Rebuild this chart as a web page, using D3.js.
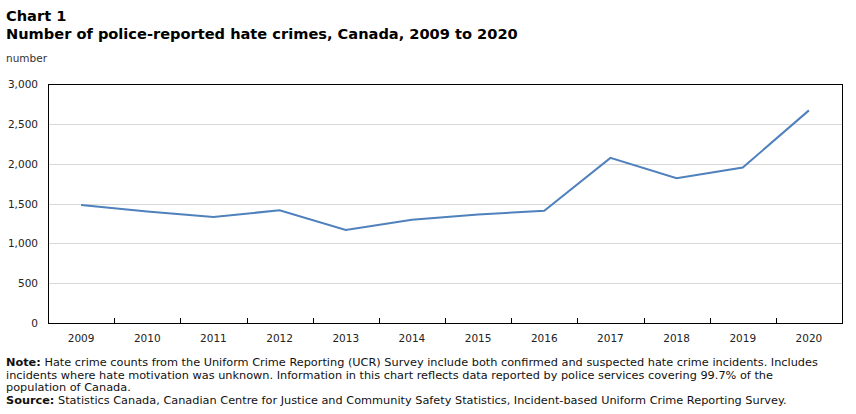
<!DOCTYPE html>
<html>
<head>
<meta charset="utf-8">
<script src="https://cdn.jsdelivr.net/npm/d3@7"></script>
<style>
  body { margin: 0; background: #fff; }
  svg { font-family: "DejaVu Sans", Verdana, sans-serif; }
</style>
</head>
<body>
<svg width="856" height="414"></svg>
<script>
var years = ['2009','2010','2011','2012','2013','2014','2015','2016','2017','2018','2019','2020'];
var hateCrimes = [1482, 1401, 1332, 1414, 1167, 1295, 1362, 1409, 2073, 1817, 1951, 2669];
var yTicks = [0, 500, 1000, 1500, 2000, 2500, 3000];

var noteLines = [
    'Hate crime counts from the Uniform Crime Reporting (UCR) Survey include both confirmed and suspected hate crime incidents. Includes',
    'incidents where hate motivation was unknown. Information in this chart reflects data reported by police services covering 99.7% of the',
    'population of Canada.'
];
var sourceText = 'Statistics Canada, Canadian Centre for Justice and Community Safety Statistics, Incident-based Uniform Crime Reporting Survey.';

var svg = d3.select('svg');

var plotLeft = 48, plotRight = 842, plotTop = 84, plotBottom = 323;

var scaleX = d3.scaleBand().domain(years).range([plotLeft, plotRight]);
var scaleY = d3.scaleLinear().domain([0, 3000]).range([plotBottom, plotTop]);

// titles
svg.append('text')
    .attr('x', 6).attr('y', 21)
    .attr('font-size', 14.6).attr('font-weight', 'bold')
    .text('Chart 1');
svg.append('text')
    .attr('x', 6).attr('y', 39)
    .attr('font-size', 14.6).attr('font-weight', 'bold')
    .text('Number of police-reported hate crimes, Canada, 2009 to 2020');
svg.append('text')
    .attr('x', 6).attr('y', 62)
    .attr('font-size', 10.5).attr('fill', '#333')
    .text('number');

// grid lines
svg.append('g')
    .selectAll('line')
    .data(yTicks.filter(function(d){ return d > 0 && d < 3000; }))
    .enter()
    .append('line')
    .attr('x1', plotLeft).attr('x2', plotRight)
    .attr('y1', function(d){ return Math.round(scaleY(d)) + 0.5; })
    .attr('y2', function(d){ return Math.round(scaleY(d)) + 0.5; })
    .attr('stroke', '#d9d9d9')
    .attr('stroke-width', 1);

// y axis labels
svg.append('g')
    .selectAll('text')
    .data(yTicks)
    .enter()
    .append('text')
    .attr('x', 38)
    .attr('y', function(d){ return scaleY(d) + 4; })
    .attr('text-anchor', 'end')
    .attr('font-size', 10.5)
    .attr('fill', '#222')
    .text(function(d){ return d3.format(',')(d); });

// x axis
var xAxis = svg.append('g')
    .attr('transform', 'translate(0,' + plotBottom + ')')
    .call(d3.axisBottom(scaleX).tickSize(0).tickPadding(12));
xAxis.select('.domain').remove();
xAxis.selectAll('text')
    .attr('font-family', '"DejaVu Sans", Verdana, sans-serif')
    .attr('font-size', 10.5)
    .attr('fill', '#222');

// tick marks between categories
svg.append('g')
    .selectAll('line')
    .data(years.slice(1))
    .enter()
    .append('line')
    .attr('x1', function(d){ return Math.round(scaleX(d)) + 0.5; })
    .attr('x2', function(d){ return Math.round(scaleX(d)) + 0.5; })
    .attr('y1', plotBottom).attr('y2', plotBottom - 5)
    .attr('stroke', '#000');

// plot frame
svg.append('rect')
    .attr('x', plotLeft + 0.5).attr('y', plotTop + 0.5)
    .attr('width', plotRight - plotLeft).attr('height', plotBottom - plotTop)
    .attr('fill', 'none')
    .attr('stroke', '#000')
    .attr('stroke-width', 1);

// line
var line = d3.line()
    .x(function(d, i){ return scaleX(years[i]) + scaleX.bandwidth() / 2; })
    .y(function(d){ return scaleY(d); });

svg.append('path')
    .datum(hateCrimes)
    .attr('d', line)
    .attr('fill', 'none')
    .attr('stroke', '#4f81bd')
    .attr('stroke-width', 2);

// note and source
var notes = svg.append('g').attr('font-size', 11.3).attr('fill', '#111');
noteLines.forEach(function(t, i){
    var txt = notes.append('text').attr('x', 6).attr('y', 366 + i * 12.5);
    if (i === 0) {
        txt.append('tspan').attr('font-weight', 'bold').text('Note:');
        txt.append('tspan').text(' ' + t);
    } else {
        txt.text(t);
    }
});
var src = notes.append('text').attr('x', 6).attr('y', 404);
src.append('tspan').attr('font-weight', 'bold').text('Source:');
src.append('tspan').text(' ' + sourceText);
</script>
</body>
</html>
